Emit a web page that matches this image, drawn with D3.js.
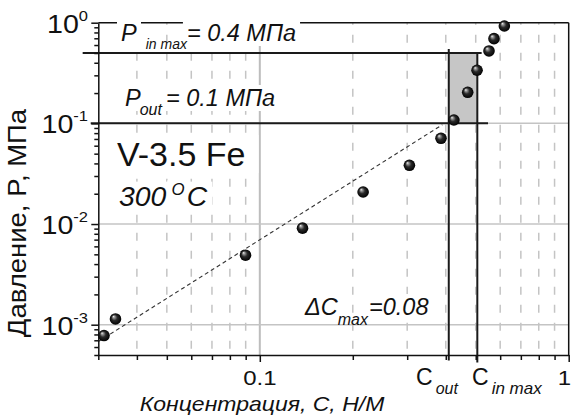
<!DOCTYPE html>
<html><head><meta charset="utf-8">
<script src="https://cdn.jsdelivr.net/npm/d3@7"></script>
<style>
html,body{margin:0;padding:0;background:#fff;}
svg{display:block;}
text{font-family:"Liberation Sans",Arial,sans-serif;fill:#111;}
</style></head><body>
<svg id="chart" width="571" height="418"></svg>
<script>
// ---------- data ----------
const concentration = [0.0313,0.0341,0.0899,0.1375,0.216,0.305,0.386,0.425,0.471,0.505,0.552,0.573,0.619];
const pressure      = [0.00078,0.00114,0.0049,0.0091,0.0208,0.0383,0.0711,0.108,0.2035,0.337,0.524,0.694,0.927];
const fitC = [0.03, 0.39];
const fitP = [0.00068, 0.097];
// reference lines: horizontal (pressure levels) and vertical (concentrations)
const hLineP  = [0.5, 0.1];
const hLineC0 = [0.0267, 0.02835];
const hLineC1 = [0.5226, 0.548];
const vLineC  = [0.409, 0.506];
const vLineP0 = [0.548, 0.5];
const vLineP1 = [0.00044, 0.00042];
const cOut = 0.409, cInMax = 0.506, pOut = 0.1, pInMax = 0.5;
const xDomain = [0.03, 1];
const yDomain = [5e-4, 1];
const xMajorTicks = [0.1, 1];
const xTickLabels = ["0.1", "1"];
const xMinorTicks = [0.03,0.04,0.05,0.06,0.07,0.08,0.09,0.2,0.3,0.4,0.5,0.6,0.7,0.8,0.9];
const yMajorTicks = [0.001, 0.01, 0.1, 1];
const yTickExponents = ["-3", "-2", "-1", "0"];
const yMinorTicks = [5e-4,6e-4,7e-4,8e-4,9e-4,2e-3,3e-3,4e-3,5e-3,6e-3,7e-3,8e-3,9e-3,0.02,0.03,0.04,0.05,0.06,0.07,0.08,0.09,0.2,0.3,0.4,0.5,0.6,0.7,0.8,0.9];
const yGridTicks = [0.001, 0.01, 0.1];
const xGridMajor = [0.1];
const xGridMinor = [0.04,0.05,0.06,0.07,0.08,0.09,0.2,0.3,0.4,0.5,0.6,0.7,0.8,0.9];

// ---------- layout ----------
const W = 571, H = 418;
const plot = {left: 98.3, right: 568.7, top: 22.7, bottom: 355};
const svg = d3.select('#chart');
const x = d3.scaleLog().domain(xDomain).range([plot.left, plot.right]);
const y = d3.scaleLog().domain(yDomain).range([plot.bottom, plot.top]);

const defs = svg.append('defs');
const grad = defs.append('radialGradient').attr('id','ball')
  .attr('cx','0.5').attr('cy','0.5').attr('r','0.5').attr('fx','0.32').attr('fy','0.28');
grad.append('stop').attr('offset','0').attr('stop-color','#f4f4f4');
grad.append('stop').attr('offset','0.18').attr('stop-color','#9a9a9a');
grad.append('stop').attr('offset','0.5').attr('stop-color','#2a2a2a');
grad.append('stop').attr('offset','1').attr('stop-color','#000');

// ---------- grid ----------
const grid = svg.append('g');
grid.selectAll('line.vmin').data(xGridMinor).join('line')
  .attr('x1', d=>x(d)).attr('x2', d=>x(d)).attr('y1', plot.top).attr('y2', plot.bottom)
  .attr('stroke','#c4c4c4').attr('stroke-width',1.5).attr('stroke-dasharray','8,10').attr('stroke-dashoffset',6);
grid.selectAll('line.vmaj').data(xGridMajor).join('line')
  .attr('x1', d=>x(d)).attr('x2', d=>x(d)).attr('y1', plot.top).attr('y2', plot.bottom)
  .attr('stroke','#bdbdbd').attr('stroke-width',2);
grid.selectAll('line.hmaj').data(yGridTicks).join('line')
  .attr('x1', plot.left).attr('x2', plot.right).attr('y1', d=>y(d)).attr('y2', d=>y(d))
  .attr('stroke','#c4c4c4').attr('stroke-width',1.5);

// ---------- shaded region ----------
svg.append('rect')
  .attr('x', x(cOut)).attr('y', y(pInMax))
  .attr('width', x(cInMax)-x(cOut)).attr('height', y(pOut)-y(pInMax))
  .attr('fill','#c6c6c6');

// ---------- fit line ----------
svg.append('path').datum(d3.zip(fitC, fitP))
  .attr('d', d3.line().x(d=>x(d[0])).y(d=>y(d[1])))
  .attr('fill','none').attr('stroke','#333').attr('stroke-width',1.1).attr('stroke-dasharray','4,3');

// ---------- reference lines ----------
const refs = svg.append('g').attr('stroke','#1a1a1a').attr('stroke-width',2);
refs.selectAll('line.h').data(hLineP).join('line')
  .attr('x1', (d,i)=>x(hLineC0[i])).attr('x2', (d,i)=>x(hLineC1[i]))
  .attr('y1', d=>y(d)).attr('y2', d=>y(d));
refs.selectAll('line.v').data(vLineC).join('line')
  .attr('x1', d=>x(d)).attr('x2', d=>x(d))
  .attr('y1', (d,i)=>y(vLineP0[i])).attr('y2', (d,i)=>y(vLineP1[i]));

// ---------- axes & frame ----------
function styleAxis(g){
  g.selectAll('path,line').attr('stroke','#111').attr('stroke-width',1.5);
}
svg.append('g').attr('transform',`translate(${plot.left},0)`)
  .call(d3.axisLeft(y).tickValues(yMajorTicks).tickSize(7).tickSizeOuter(0).tickFormat(''))
  .call(styleAxis);
svg.append('g').attr('transform',`translate(${plot.left},0)`)
  .call(d3.axisLeft(y).tickValues(yMinorTicks).tickSize(4).tickSizeOuter(0).tickFormat(''))
  .call(g=>g.select('.domain').remove()).call(styleAxis);
svg.append('g').attr('transform',`translate(0,${plot.bottom})`)
  .call(d3.axisBottom(x).tickValues(xMajorTicks).tickSize(7).tickSizeOuter(0).tickFormat(''))
  .call(styleAxis);
svg.append('g').attr('transform',`translate(0,${plot.bottom})`)
  .call(d3.axisBottom(x).tickValues(xMinorTicks).tickSize(5).tickSizeOuter(0).tickFormat(''))
  .call(g=>g.select('.domain').remove()).call(styleAxis);
svg.append('line').attr('x1',plot.left).attr('x2',plot.right).attr('y1',y(1)).attr('y2',y(1))
  .attr('stroke','#111').attr('stroke-width',1.5);
svg.append('line').attr('x1',plot.right).attr('x2',plot.right).attr('y1',plot.top).attr('y2',plot.bottom)
  .attr('stroke','#111').attr('stroke-width',1.5);

// ---------- text helper ----------
function richText(x0, y0, parts, opt={}){
  const anchor = opt.anchor||'start', sx = opt.sx||1, rot = opt.rotate||0;
  const padL = opt.padL!=null?opt.padL:3, padR = opt.padR!=null?opt.padR:3;
  const g = svg.append('g').attr('transform',`translate(${x0},${y0}) rotate(${rot}) scale(${sx},1)`);
  const boxes = g.append('g'), texts = g.append('g');
  let cx = 0; const items = [];
  parts.forEach(p=>{
    const t = texts.append('text').attr('y', p.dy||0).attr('font-size', p.size)
      .attr('font-style', p.italic?'italic':'normal').text(p.t);
    cx += (p.dx||0);
    const w = t.node().getComputedTextLength();
    items.push({t, p, x: cx});
    cx += w;
  });
  const shift = anchor==='end' ? -cx : anchor==='middle' ? -cx/2 : 0;
  items.forEach(it=>{
    it.t.attr('x', it.x + shift);
    if (it.p.box){
      const b = it.t.node().getBBox();
      boxes.append('rect').attr('x', b.x-padL).attr('y', b.y)
        .attr('width', b.width+padL+padR).attr('height', b.height).attr('fill','#fff');
    }
  });
  return g;
}

// tick labels
yMajorTicks.forEach((v,i)=>{
  richText(88, y(v)+10, [{t:'10', size:26},{t:yTickExponents[i], size:15, dy:-12}], {anchor:'end', sx:1.1});
});
xMajorTicks.forEach((v,i)=>{
  const last = i === xMajorTicks.length-1;
  richText(last ? W : x(v), 385, [{t:xTickLabels[i], size:20}], {anchor: last ? 'end' : 'middle', sx:1.2});
});
richText(416, 385, [{t:'C', size:23},{t:'out', size:16, italic:true, dy:9, dx:3}]);
richText(472, 385, [{t:'C', size:23},{t:'in max', size:17, italic:true, dy:9, dx:3}]);

// axis titles
richText(262, 411, [{t:'Концентрация, C, Н/М', size:20, italic:true}], {anchor:'middle', sx:1.15});
richText(26, 223, [{t:'Давление, P, МПа', size:25}], {anchor:'middle', sx:1.1, rotate:-90});

// annotations
richText(121, 41, [{t:'P', size:23.5, italic:true, box:true},{t:'in max', size:14, italic:true, dy:8, dx:9},{t:'= 0.4 МПа', size:23.5, italic:true, box:true, dx:0}], {padL:4, padR:4});
richText(125, 106, [{t:'P', size:23.5, italic:true, box:true},{t:'out', size:16, italic:true, dy:9, dx:-1},{t:'= 0.1 МПа', size:23.5, italic:true, box:true, dx:4}], {padL:4, padR:4});
richText(305, 315, [{t:'ΔC', size:23.5, italic:true, box:true},{t:'max', size:16, italic:true, dy:10},{t:'=0.08', size:23.5, italic:true, box:true, dx:1}], {padL:2, padR:3});
richText(117, 166, [{t:'V-3.5 Fe', size:34, box:true}], {padL:4, padR:13});
richText(119, 206, [{t:'300', size:27, italic:true, box:true},{t:'O', size:16, italic:true, dy:-11, dx:5, box:true},{t:'C', size:27, italic:true, dx:2, box:true}], {sx:1.05, padL:4, padR:4});

// ---------- data points ----------
svg.append('g').selectAll('circle').data(d3.zip(concentration, pressure)).join('circle')
  .attr('cx', d=>x(d[0])).attr('cy', d=>y(d[1])).attr('r', 5.8)
  .attr('fill','url(#ball)');
</script>
</body></html>
